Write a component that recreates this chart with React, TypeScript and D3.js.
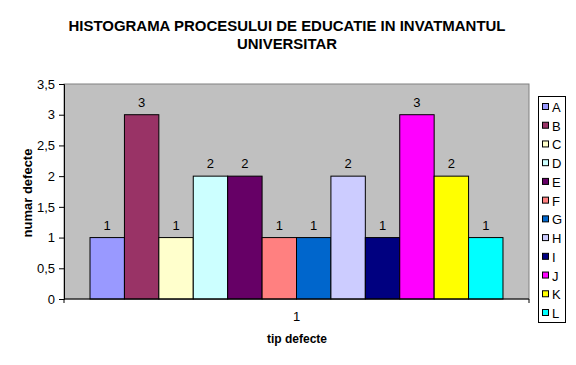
import { useRef, useEffect } from "react";
import * as d3 from "d3";

const categories = ["1"];
const seriesNames = ["A", "B", "C", "D", "E", "F", "G", "H", "I", "J", "K", "L"];
const seriesValues = [1, 3, 1, 2, 2, 1, 1, 2, 1, 3, 2, 1];
const seriesColors = [
  "#9999FF", "#993366", "#FFFFCC", "#CCFFFF", "#660066", "#FF8080",
  "#0066CC", "#CCCCFF", "#000080", "#FF00FF", "#FFFF00", "#00FFFF",
];
const yTicks = [0, 0.5, 1, 1.5, 2, 2.5, 3, 3.5];

const FONT = "'Liberation Sans', Arial, sans-serif";

export default function App() {
  const svgRef = useRef<SVGSVGElement>(null);

  useEffect(() => {
    if (!svgRef.current) return;
    const svg = d3.select(svgRef.current);
    svg.selectAll("*").remove();

    const W = 576;
    const H = 365;
    const plot = { left: 64, top: 84, right: 529, bottom: 299 };

    svg.attr("width", W).attr("height", H).style("font-family", FONT);
    svg.append("rect").attr("width", W).attr("height", H).attr("fill", "#fff");

    // Title
    svg.append("text")
      .attr("x", 287).attr("y", 31)
      .attr("text-anchor", "middle")
      .attr("font-size", "14px").attr("font-weight", "bold")
      .attr("textLength", 437).attr("lengthAdjust", "spacingAndGlyphs")
      .text("HISTOGRAMA PROCESULUI DE EDUCATIE IN INVATMANTUL");
    svg.append("text")
      .attr("x", 287).attr("y", 49)
      .attr("text-anchor", "middle")
      .attr("font-size", "14px").attr("font-weight", "bold")
      .attr("textLength", 100).attr("lengthAdjust", "spacingAndGlyphs")
      .text("UNIVERSITAR");

    const y = d3.scaleLinear().domain([0, 3.5]).range([plot.bottom, plot.top]);
    const x0 = d3.scaleBand<string>()
      .domain(categories)
      .range([plot.left, plot.right])
      .paddingInner(0)
      .paddingOuter(0.063);
    const x1 = d3.scaleBand<string>()
      .domain(seriesNames)
      .range([0, x0.bandwidth()])
      .padding(0);

    // Plot area
    svg.append("rect")
      .attr("x", plot.left)
      .attr("y", plot.top)
      .attr("width", plot.right - plot.left)
      .attr("height", plot.bottom - plot.top)
      .attr("fill", "#C0C0C0")
      .attr("stroke", "#808080")
      .attr("stroke-width", 1);

    // Bars + value labels
    const g = svg.append("g");
    categories.forEach((cat) => {
      seriesNames.forEach((name, i) => {
        const v = seriesValues[i];
        const bx = (x0(cat) ?? 0) + (x1(name) ?? 0);
        g.append("rect")
          .attr("x", bx)
          .attr("y", y(v))
          .attr("width", x1.bandwidth())
          .attr("height", y(0) - y(v))
          .attr("fill", seriesColors[i])
          .attr("stroke", "#000")
          .attr("stroke-width", 1);
        g.append("text")
          .attr("x", bx + x1.bandwidth() / 2)
          .attr("y", y(v) - 8)
          .attr("text-anchor", "middle")
          .attr("font-size", "13px")
          .attr("fill", "#000")
          .text(v);
      });
    });

    // Y axis
    svg.append("g")
      .attr("transform", `translate(${plot.left},0)`)
      .call(d3.axisLeft(y).tickValues(yTicks).tickSize(5).tickPadding(4)
        .tickFormat((d) => String(d).replace(".", ",")))
      .call((a) => a.select(".domain").attr("stroke", "#000"))
      .call((a) => a.selectAll(".tick line").attr("stroke", "#000"))
      .call((a) => a.selectAll(".tick text").attr("fill", "#000").attr("font-size", "13px").attr("font-family", FONT));

    // X axis
    svg.append("line")
      .attr("x1", plot.left).attr("x2", plot.right)
      .attr("y1", plot.bottom).attr("y2", plot.bottom)
      .attr("stroke", "#000");
    [plot.left, plot.right].forEach((tx) => {
      svg.append("line")
        .attr("x1", tx).attr("x2", tx)
        .attr("y1", plot.bottom).attr("y2", plot.bottom + 4)
        .attr("stroke", "#000");
    });
    categories.forEach((cat) => {
      svg.append("text")
        .attr("x", (x0(cat) ?? 0) + x0.bandwidth() / 2)
        .attr("y", 321)
        .attr("text-anchor", "middle")
        .attr("font-size", "13px")
        .attr("fill", "#000")
        .text(cat);
    });

    // Axis titles
    svg.append("text")
      .attr("x", 297).attr("y", 343)
      .attr("text-anchor", "middle")
      .attr("font-size", "12px").attr("font-weight", "bold")
      .text("tip defecte");
    svg.append("text")
      .attr("transform", "translate(32,193) rotate(-90)")
      .attr("text-anchor", "middle")
      .attr("font-size", "13px").attr("font-weight", "bold")
      .text("numar defecte");

    // Legend
    const legend = svg.append("g");
    legend.append("rect")
      .attr("x", 538.5).attr("y", 96.5)
      .attr("width", 27).attr("height", 226)
      .attr("fill", "#fff").attr("stroke", "#000");
    const ly = d3.scalePoint<string>().domain(seriesNames).range([107, 313]);
    seriesNames.forEach((name, i) => {
      const cy = ly(name) ?? 0;
      legend.append("rect")
        .attr("x", 542.5).attr("y", cy - 3.5)
        .attr("width", 6).attr("height", 6)
        .attr("fill", seriesColors[i]).attr("stroke", "#000");
      legend.append("text")
        .attr("x", 552).attr("y", cy + 5)
        .attr("font-size", "13px")
        .text(name);
    });
  }, []);

  return (
    <div style={{ position: "absolute", left: 0, top: 0 }}>
      <svg ref={svgRef} style={{ display: "block" }} />
    </div>
  );
}
